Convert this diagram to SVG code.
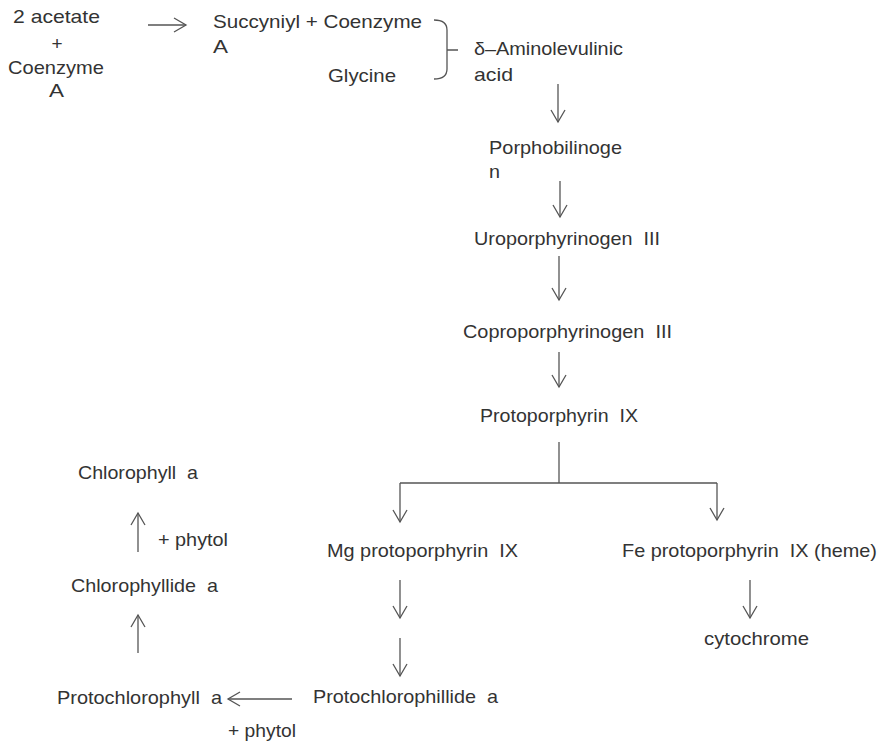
<svg xmlns="http://www.w3.org/2000/svg" width="884" height="744" viewBox="0 0 884 744">
<style>
text{font-family:"Liberation Sans",Arial,sans-serif;font-size:19px;fill:#333;white-space:pre;}
.c{text-anchor:middle;}
.ln{stroke:#555;stroke-width:1.3;fill:none;}
.ar{stroke:#555;stroke-width:1.3;fill:none;marker-end:url(#ah);}
</style>
<defs>
<marker id="ah" markerUnits="userSpaceOnUse" markerWidth="16" markerHeight="18" viewBox="-1 -2 16 18" refX="12" refY="7" orient="auto">
<path d="M0,0 L12,7 L0,14" fill="none" stroke="#555" stroke-width="1.3"/>
</marker>
</defs>
<rect width="884" height="744" fill="#fff"/>
<g id="connectors">
<line class="ar" x1="148" y1="25" x2="186" y2="25"/>
<path class="ln" d="M434,20 Q447,20 447,30 L447,69 Q447,79 434,79 M447,50 L458,50"/>
<line class="ar" x1="558" y1="84" x2="558" y2="122"/>
<line class="ar" x1="560" y1="181" x2="560" y2="217"/>
<line class="ar" x1="559" y1="256" x2="559" y2="300"/>
<line class="ar" x1="559" y1="352" x2="559" y2="387"/>
<line class="ln" x1="559" y1="442" x2="559" y2="483"/>
<line class="ln" x1="400" y1="483" x2="717" y2="483"/>
<line class="ar" x1="400" y1="483" x2="400" y2="522"/>
<line class="ar" x1="717" y1="483" x2="717" y2="520"/>
<line class="ar" x1="400" y1="580" x2="400" y2="618"/>
<line class="ar" x1="400" y1="638" x2="400" y2="676"/>
<line class="ar" x1="292" y1="699" x2="228" y2="699"/>
<line class="ar" x1="750" y1="580" x2="750" y2="618"/>
<line class="ar" x1="138" y1="552" x2="138" y2="513"/>
<line class="ar" x1="138" y1="653" x2="138" y2="615"/>
</g>
<g id="n-acetate">
<text x="13" y="23" textLength="87" lengthAdjust="spacingAndGlyphs">2 acetate</text>
<text class="c" x="57" y="50">+</text>
<text x="8" y="74" textLength="96" lengthAdjust="spacingAndGlyphs">Coenzyme</text>
<text x="49" y="97" textLength="15" lengthAdjust="spacingAndGlyphs">A</text>
</g>
<g id="n-succinyl">
<text x="213" y="28" textLength="209" lengthAdjust="spacingAndGlyphs">Succyniyl + Coenzyme</text>
<text x="213" y="53" textLength="15" lengthAdjust="spacingAndGlyphs">A</text>
</g>
<g id="n-glycine">
<text x="328" y="82" textLength="68" lengthAdjust="spacingAndGlyphs">Glycine</text>
</g>
<g id="n-ala">
<text x="474" y="55" textLength="149" lengthAdjust="spacingAndGlyphs">δ–Aminolevulinic</text>
<text x="474" y="81" textLength="39" lengthAdjust="spacingAndGlyphs">acid</text>
</g>
<g id="n-pbg">
<text x="489" y="154" textLength="133" lengthAdjust="spacingAndGlyphs">Porphobilinoge</text>
<text x="489" y="178" textLength="11" lengthAdjust="spacingAndGlyphs">n</text>
</g>
<g id="n-uro">
<text x="474" y="245" textLength="186" lengthAdjust="spacingAndGlyphs">Uroporphyrinogen  III</text>
</g>
<g id="n-copro">
<text x="463" y="338" textLength="209" lengthAdjust="spacingAndGlyphs">Coproporphyrinogen  III</text>
</g>
<g id="n-proto">
<text x="480" y="422" textLength="158" lengthAdjust="spacingAndGlyphs">Protoporphyrin  IX</text>
</g>
<g id="n-mg">
<text x="327" y="557" textLength="191" lengthAdjust="spacingAndGlyphs">Mg protoporphyrin  IX</text>
</g>
<g id="n-fe">
<text x="622" y="557" textLength="255" lengthAdjust="spacingAndGlyphs">Fe protoporphyrin  IX (heme)</text>
</g>
<g id="n-cyt">
<text x="704" y="645" textLength="105" lengthAdjust="spacingAndGlyphs">cytochrome</text>
</g>
<g id="n-pchlide">
<text x="313" y="703" textLength="185" lengthAdjust="spacingAndGlyphs">Protochlorophillide  a</text>
</g>
<g id="n-pchl">
<text x="57" y="704" textLength="165" lengthAdjust="spacingAndGlyphs">Protochlorophyll  a</text>
<text x="228" y="737" textLength="68" lengthAdjust="spacingAndGlyphs">+ phytol</text>
</g>
<g id="n-chlide">
<text x="71" y="592" textLength="147" lengthAdjust="spacingAndGlyphs">Chlorophyllide  a</text>
<text x="158" y="546" textLength="70" lengthAdjust="spacingAndGlyphs">+ phytol</text>
</g>
<g id="n-chl">
<text x="78" y="479" textLength="120" lengthAdjust="spacingAndGlyphs">Chlorophyll  a</text>
</g>
</svg>
